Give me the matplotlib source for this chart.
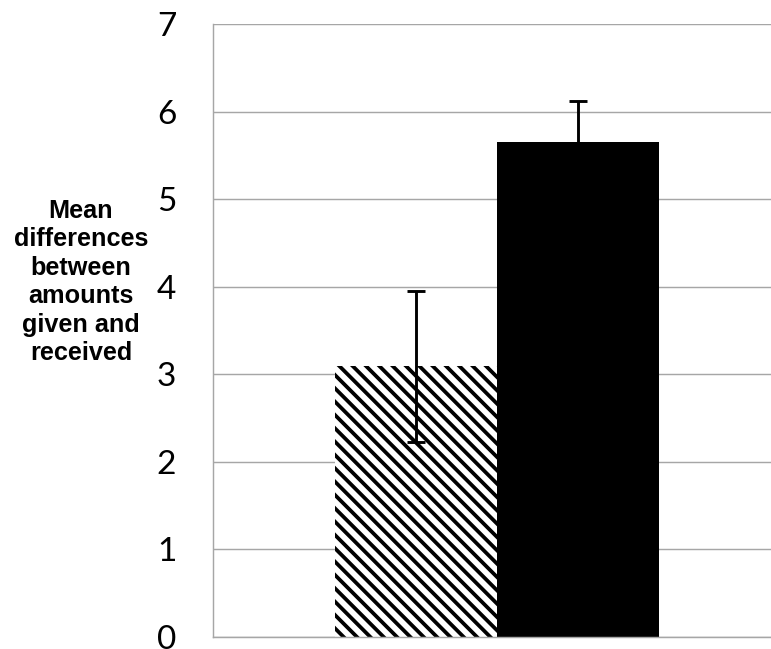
import matplotlib
matplotlib.use("Agg")
import matplotlib.pyplot as plt

# Data
categories = ["Condition 1", "Condition 2"]
means = [3.09, 5.65]
errors = [0.865, 0.47]
hatches = ["\\\\", None]
face_colors = ["white", "black"]
y_ticks = [0, 1, 2, 3, 4, 5, 6, 7]
y_label = "Mean\ndifferences\nbetween\namounts\ngiven and\nreceived"

DPI = 80
plt.rcParams["hatch.linewidth"] = 3.4
plt.rcParams["hatch.color"] = "black"

fig = plt.figure(figsize=(771 / DPI, 649 / DPI), dpi=DPI)
ax = fig.add_axes([213 / 771, 1 - 637 / 649, 1 - 213 / 771, (637 - 24) / 649])

positions = list(range(len(categories)))
for p, m, h, fc in zip(positions, means, hatches, face_colors):
    ax.bar(p, m, width=1.0, color=fc, edgecolor="black", linewidth=0,
           hatch=h, zorder=2)

ax.errorbar(positions, means, yerr=errors, fmt="none", ecolor="black",
            elinewidth=2.6, capsize=8.5, capthick=2.6, zorder=3)

ax.set_ylim(0, 7)
ax.set_xlim(-1.253, 2.191)
ax.set_yticks(y_ticks)
ax.set_yticklabels([str(t) for t in y_ticks], fontfamily="Lato", fontsize=30)
ax.tick_params(axis="y", length=0, pad=33)
ax.set_xticks([])

ax.grid(axis="y", color="#a6a6a6", linewidth=1.3, zorder=0)
ax.set_axisbelow(True)
for s in ["top", "right"]:
    ax.spines[s].set_visible(False)
for s in ["left", "bottom"]:
    ax.spines[s].set_color("#a6a6a6")
    ax.spines[s].set_linewidth(1.3)

fig.text(81 / 771, 1 - 282 / 649, y_label, ha="center", va="center",
         multialignment="center", fontfamily="Liberation Sans",
         fontweight="bold", fontsize=22.7, linespacing=1.23)

fig.savefig("out.png", dpi=DPI)
